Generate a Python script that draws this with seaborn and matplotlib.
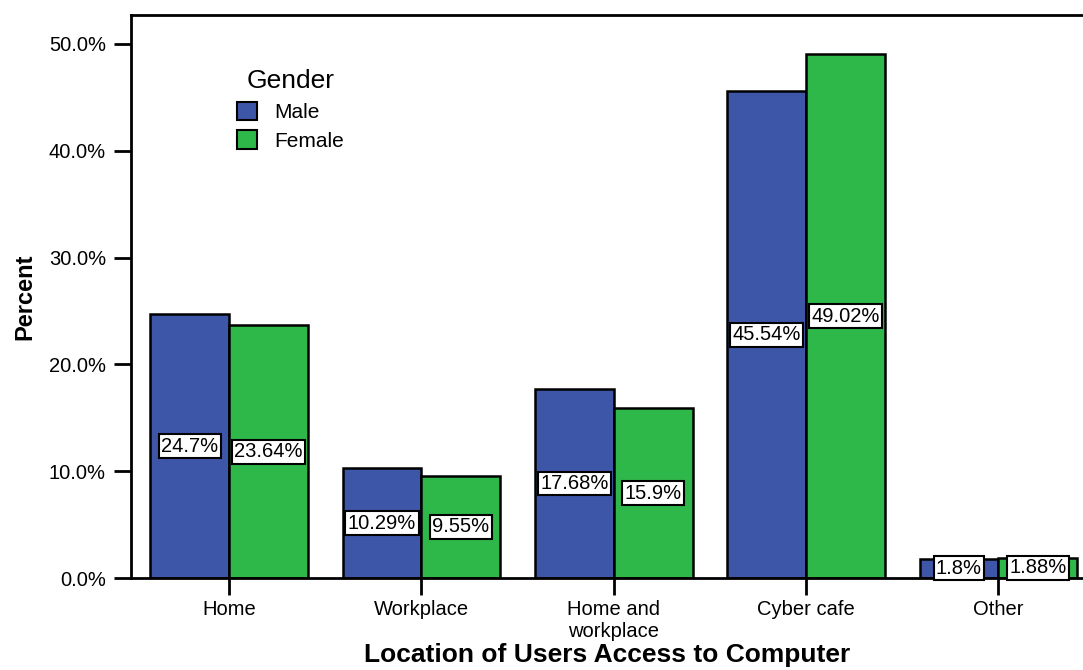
import pandas as pd
import matplotlib.pyplot as plt
import seaborn as sns

# data
locations = ['Home', 'Workplace', 'Home and\nworkplace', 'Cyber cafe', 'Other']
genders = ['Male', 'Female']
male_pct = [24.7, 10.29, 17.68, 45.54, 1.8]
female_pct = [23.64, 9.55, 15.9, 49.02, 1.88]

df = pd.DataFrame({
    'location': locations * 2,
    'gender': ['Male'] * len(locations) + ['Female'] * len(locations),
    'percent': male_pct + female_pct,
})

sns.set_style('white')
plt.rcParams['font.family'] = ['Liberation Sans', 'DejaVu Sans']
plt.rcParams['text.color'] = 'black'
plt.rcParams['xtick.color'] = 'black'
plt.rcParams['ytick.color'] = 'black'
plt.rcParams['axes.labelcolor'] = 'black'

fig = plt.figure(figsize=(10.83, 6.70), dpi=100)
ax = fig.add_axes([131 / 1083, 1 - 578 / 670, 1 - 131 / 1083, (578 - 15) / 670])

palette = {'Male': '#3d56a8', 'Female': '#2fb84a'}
sns.barplot(data=df, x='location', y='percent', hue='gender', order=locations,
            hue_order=genders, palette=palette, width=0.82, gap=0,
            edgecolor='black', linewidth=1.8, saturation=1, ax=ax)

# value boxes in the middle of the bars
for cont in ax.containers:
    ax.bar_label(cont, labels=[f'{b.get_height():g}%' for b in cont],
                 label_type='center', fontsize=14.5,
                 bbox=dict(facecolor='white', edgecolor='black', linewidth=1.5,
                           boxstyle='square,pad=0.12'))

ax.set_xlim(-0.51, 4.44)
ax.set_ylim(0, 52.7)
ax.set_yticks([0, 10, 20, 30, 40, 50])
ax.set_yticklabels([f'{t:.1f}%' for t in [0, 10, 20, 30, 40, 50]])
ax.tick_params(axis='both', which='major', labelsize=14.5, length=12, width=2,
               direction='out', bottom=True, left=True)
ax.tick_params(axis='x', pad=4)
ax.tick_params(axis='y', pad=6)
ax.set_xlabel('Location of Users Access to Computer', fontsize=19,
              fontweight='bold', labelpad=1)
ax.set_ylabel('Percent', fontsize=17, fontweight='bold', labelpad=9)

for side in ['left', 'top', 'bottom']:
    ax.spines[side].set_color('black')
    ax.spines[side].set_linewidth(2)
ax.spines['right'].set_visible(False)

leg = ax.legend(title='Gender', loc='upper left', bbox_to_anchor=(0.1, 0.922),
                frameon=False, fontsize=15, title_fontsize=19,
                handlelength=1.0, handleheight=1.0, handletextpad=0.8,
                labelspacing=0.4, borderpad=0)
for h in leg.legend_handles:
    h.set_edgecolor('black')
    h.set_linewidth(1.5)

fig.savefig('out.png', dpi=100)
